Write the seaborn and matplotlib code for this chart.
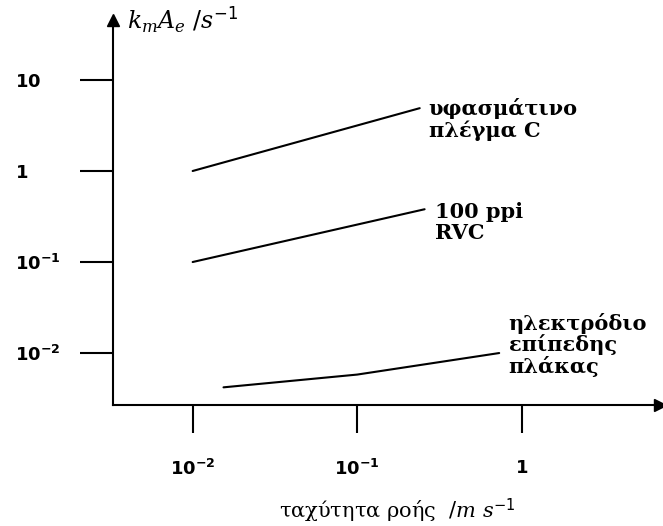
import numpy as np
import pandas as pd
import matplotlib
matplotlib.use("Agg")
import matplotlib.pyplot as plt
import seaborn as sns

# data (log-log)
series_names = ["υφασμάτινο\nπλέγμα C", "100 ppi\nRVC", "ηλεκτρόδιο\nεπίπεδης\nπλάκας"]
x_mesh = [0.01, 0.24]
y_mesh = [1.0, 4.9]
x_rvc = [0.01, 0.257]
y_rvc = [0.1, 0.38]
x_plate = [0.0154, 0.1, 0.73]
y_plate = [0.0042, 0.0058, 0.010]

xticks = [0.01, 0.1, 1]
xticklabels = [r"$\mathbf{10^{-2}}$", r"$\mathbf{10^{-1}}$", r"$\mathbf{1}$"]
yticks = [0.01, 0.1, 1, 10]
yticklabels = [r"$\mathbf{10^{-2}}$", r"$\mathbf{10^{-1}}$", r"$\mathbf{1}$", r"$\mathbf{10}$"]

sns.set_style("white")
plt.rcParams["font.family"] = ["DejaVu Sans"]
plt.rcParams["text.color"] = "black"
plt.rcParams["axes.labelcolor"] = "black"
plt.rcParams["xtick.color"] = "black"
plt.rcParams["ytick.color"] = "black"
plt.rcParams["mathtext.fontset"] = "custom"
plt.rcParams["mathtext.rm"] = "DejaVu Sans"
plt.rcParams["mathtext.bf"] = "DejaVu Sans:bold"
plt.rcParams["mathtext.it"] = "DejaVu Serif:italic"

df = pd.concat([
    pd.DataFrame({"name": series_names[0], "x": x_mesh, "y": y_mesh}),
    pd.DataFrame({"name": series_names[1], "x": x_rvc, "y": y_rvc}),
    pd.DataFrame({"name": series_names[2], "x": x_plate, "y": y_plate}),
])

fig = plt.figure(figsize=(6.63, 5.26), dpi=100)
ax = fig.add_axes([0.170, 0.230, 0.825, 0.732])

sns.lineplot(data=df, x="x", y="y", hue="name", palette=["black"] * 3,
             legend=False, linewidth=1.5, ax=ax)

ax.set_xscale("log")
ax.set_yscale("log")
ax.set_xlim(10 ** -2.486, 10 ** 0.839)
ax.set_ylim(10 ** -2.571, 10 ** 1.659)
ax.minorticks_off()
ax.set_xticks(xticks)
ax.set_xticklabels(xticklabels, fontsize=13, color="black")
ax.set_yticks(yticks)
ax.set_yticklabels(yticklabels, fontsize=13, ha="left", color="black")
ax.tick_params(axis="y", left=True, direction="out", length=24, width=1.5, pad=46, color="black")
ax.tick_params(axis="x", bottom=True, direction="out", length=20, width=1.5, pad=19, color="black")

sns.despine(ax=ax)
for s in ["left", "bottom"]:
    ax.spines[s].set_linewidth(1.5)
    ax.spines[s].set_color("black")

# arrow heads on the axes
ax.plot(0, 1, marker="^", markersize=9, color="black", transform=ax.transAxes, clip_on=False)
ax.plot(1, 0, marker=">", markersize=9, color="black", transform=ax.transAxes, clip_on=False)

# curve labels
label_pos = [(0.272, 3.68), (0.296, 0.272), (0.834, 0.01225)]
for name, (lx, ly) in zip(series_names, label_pos):
    ax.text(lx, ly, name, ha="left", va="center", fontsize=15, fontweight="bold",
            family=["DejaVu Serif"], linespacing=1.05, color="black")

ax.set_ylabel("")
ax.set_xlabel("ταχύτητα ροής  $/m\\ s^{-1}$", fontsize=15, family=["DejaVu Serif"])
ax.xaxis.label.set_va("center")
ax.xaxis.set_label_coords(0.52, -0.275)
ax.text(0.027, 1.0, r"$k_m A_e\ /s^{-1}$", transform=ax.transAxes, fontsize=17,
        ha="left", va="center", color="black")

fig.savefig("out.png", dpi=100)
